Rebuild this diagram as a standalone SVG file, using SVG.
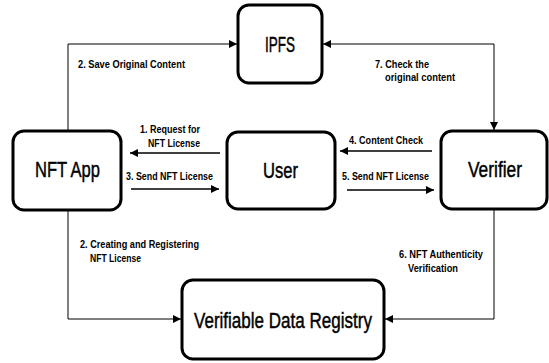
<svg xmlns="http://www.w3.org/2000/svg" width="549" height="363" viewBox="0 0 549 363">
<style>
.box{fill:#fff;stroke:#000;stroke-width:3}
.big{font-family:"Liberation Sans",Arial,sans-serif;font-size:22.5px;fill:#000;stroke:#000;stroke-width:0.45}
.lbl{font-family:"Liberation Sans",Arial,sans-serif;font-size:10px;font-weight:bold;fill:#000}
.ln{fill:none;stroke:#000;stroke-width:1}
.ln2{fill:none;stroke:#000;stroke-width:1.3}
</style>
<defs>
<marker id="ah" viewBox="0 0 10 10" refX="10" refY="5" markerWidth="8" markerHeight="8" markerUnits="userSpaceOnUse" orient="auto">
<path d="M0,0 L10,5 L0,10 z" fill="#000"/>
</marker>
</defs>
<rect width="549" height="363" fill="#fff"/>
<g id="connectors">
<path class="ln" d="M68,131 V44 H237" marker-end="url(#ah)"/>
<path class="ln" d="M494,44 H323" marker-end="url(#ah)"/>
<path class="ln" d="M494,44 V130" marker-end="url(#ah)"/>
<path class="ln" d="M68,210 V319 H181" marker-end="url(#ah)"/>
<path class="ln" d="M494,209 V319 H385" marker-end="url(#ah)"/>
<path class="ln2" d="M220,153 H130" marker-end="url(#ah)"/>
<path class="ln2" d="M131,189 H219" marker-end="url(#ah)"/>
<path class="ln2" d="M432,151 H340" marker-end="url(#ah)"/>
<path class="ln2" d="M347,190 H434" marker-end="url(#ah)"/>
<text class="lbl" x="78" y="68" textLength="107" lengthAdjust="spacingAndGlyphs">2. Save Original Content</text>
<text class="lbl" x="375" y="68" textLength="54" lengthAdjust="spacingAndGlyphs">7. Check the</text>
<text class="lbl" x="385" y="81" textLength="70" lengthAdjust="spacingAndGlyphs">original content</text>
<text class="lbl" x="140" y="133" textLength="60" lengthAdjust="spacingAndGlyphs">1. Request for</text>
<text class="lbl" x="148" y="147" textLength="52" lengthAdjust="spacingAndGlyphs">NFT License</text>
<text class="lbl" x="126" y="180" textLength="87" lengthAdjust="spacingAndGlyphs">3. Send NFT License</text>
<text class="lbl" x="349" y="144" textLength="74" lengthAdjust="spacingAndGlyphs">4. Content Check</text>
<text class="lbl" x="342" y="180" textLength="87" lengthAdjust="spacingAndGlyphs">5. Send NFT License</text>
<text class="lbl" x="80" y="248" textLength="119" lengthAdjust="spacingAndGlyphs">2. Creating and Registering</text>
<text class="lbl" x="90" y="262" textLength="51" lengthAdjust="spacingAndGlyphs">NFT License</text>
<text class="lbl" x="399" y="258" textLength="84" lengthAdjust="spacingAndGlyphs">6. NFT Authenticity</text>
<text class="lbl" x="408" y="272" textLength="50" lengthAdjust="spacingAndGlyphs">Verification</text>
</g>
<g id="ipfs">
<rect class="box" x="238" y="5" width="84" height="78" rx="11"/>
<text class="big" x="265" y="52" textLength="30" lengthAdjust="spacingAndGlyphs">IPFS</text>
</g>
<g id="nftapp">
<rect class="box" x="13" y="131" width="108" height="79" rx="11"/>
<text class="big" x="35" y="177" textLength="65" lengthAdjust="spacingAndGlyphs">NFT App</text>
</g>
<g id="user">
<rect class="box" x="227" y="132" width="108" height="77" rx="11"/>
<text class="big" x="263" y="178" textLength="35" lengthAdjust="spacingAndGlyphs">User</text>
</g>
<g id="verifier">
<rect class="box" x="441" y="131" width="106" height="78" rx="11"/>
<text class="big" x="468" y="177" textLength="54" lengthAdjust="spacingAndGlyphs">Verifier</text>
</g>
<g id="vdr">
<rect class="box" x="182" y="280" width="202" height="79" rx="11"/>
<text class="big" x="194" y="328" textLength="178" lengthAdjust="spacingAndGlyphs">Verifiable Data Registry</text>
</g>
</svg>
